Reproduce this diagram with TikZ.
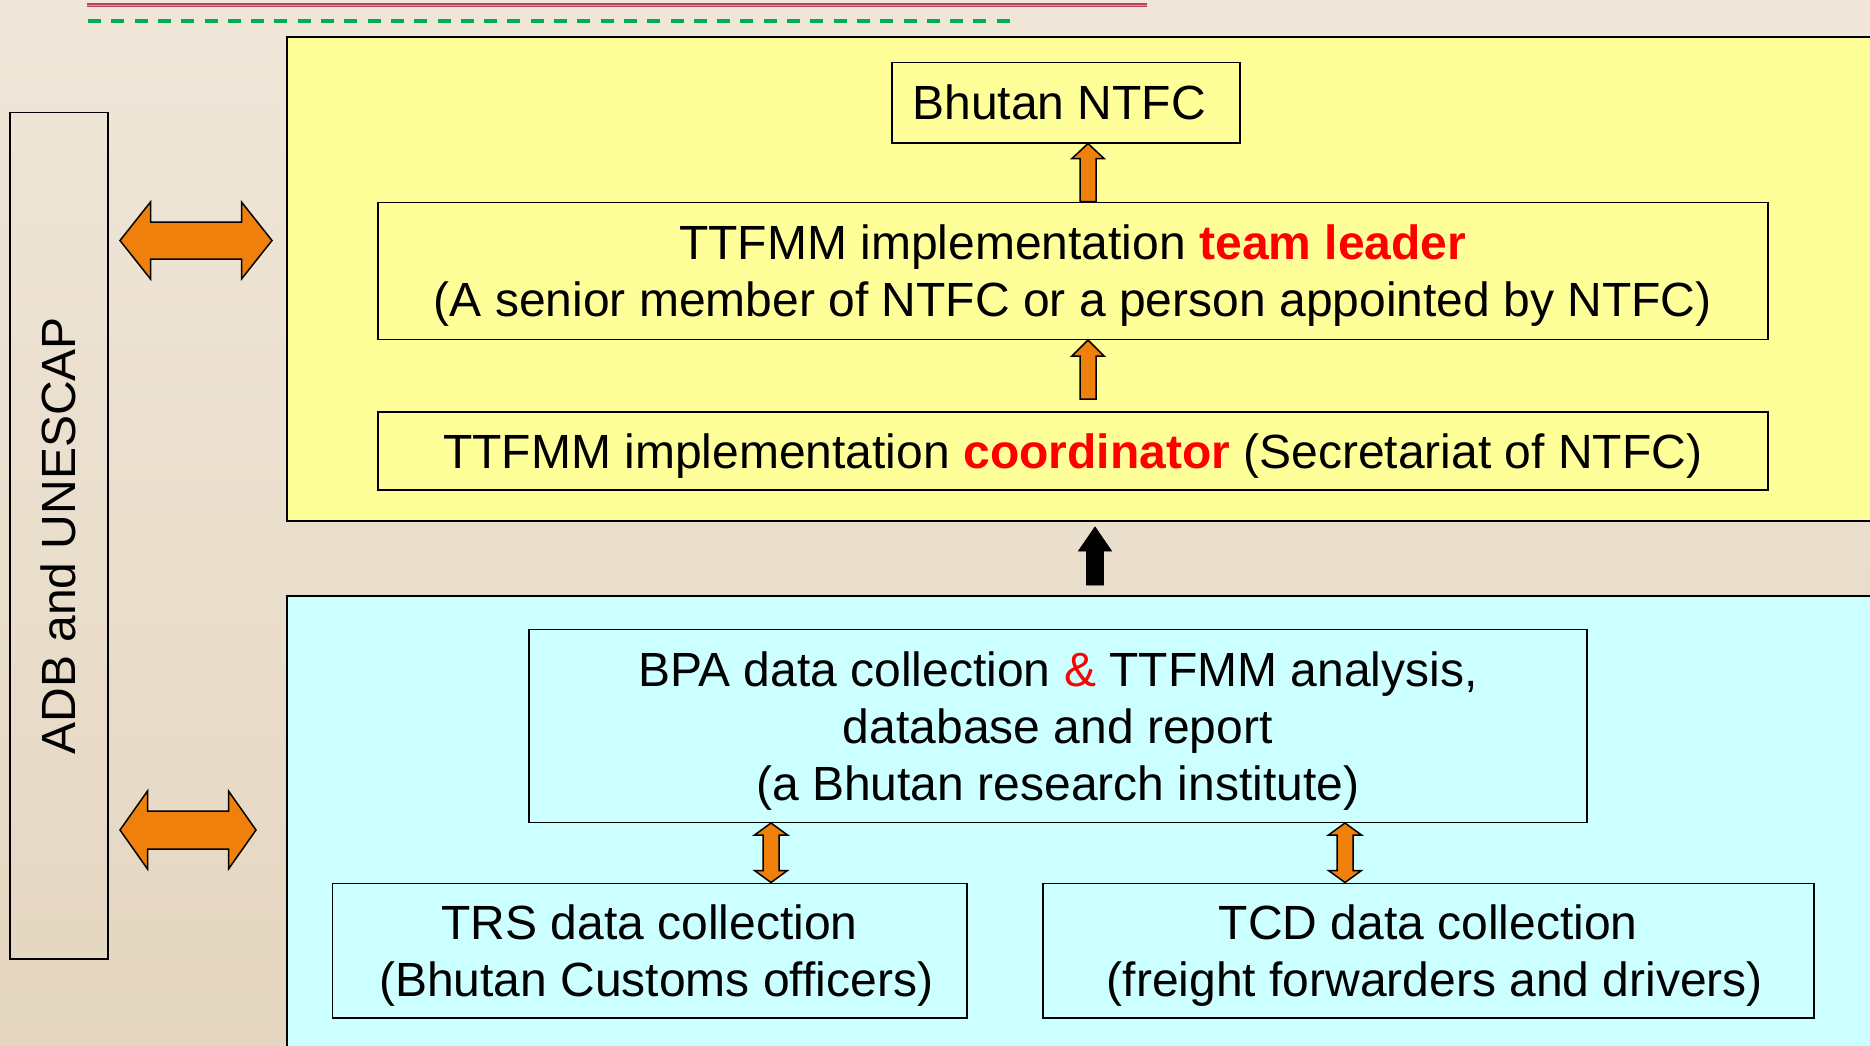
\documentclass[tikz,border=0pt]{standalone}
\usepackage{fontspec}
\setmainfont{Liberation Sans}
\usetikzlibrary{calc}
\definecolor{bgtop}{RGB}{240,231,218}
\definecolor{bgbot}{RGB}{228,214,192}
\definecolor{panelyellow}{RGB}{255,255,153}
\definecolor{panelcyan}{RGB}{204,255,255}
\definecolor{arroworange}{RGB}{240,128,12}
\definecolor{linered}{RGB}{185,70,88}
\definecolor{lineredlight}{RGB}{222,145,155}
\definecolor{linegreen}{RGB}{0,176,80}
\definecolor{hilite}{RGB}{255,0,0}
\newcommand{\st}{\rule{0pt}{45pt}}
\newcommand{\lsp}{\hspace*{13.3pt}}
\newcommand{\SingleBlk}[6]{%
  \coordinate (hbA) at ($(#2)!#6!(#3)$);
  \draw[#1] (#2) -- ($(hbA)!#5!90:(#2)$) -- ($(hbA)!#4!90:(#2)$) -- ($(#3)!#4!90:(#2)$)
    -- ($(#3)!#4!-90:(#2)$) -- ($(hbA)!#4!-90:(#2)$) -- ($(hbA)!#5!-90:(#2)$) -- cycle;
}
\newcommand{\DoubleBlk}[6]{%
  \coordinate (hbA) at ($(#2)!#6!(#3)$);
  \coordinate (hbB) at ($(#3)!#6!(#2)$);
  \draw[#1] (#2) -- ($(hbA)!#5!90:(#2)$) -- ($(hbA)!#4!90:(#2)$) -- ($(hbB)!#4!90:(#2)$)
    -- ($(hbB)!#5!90:(#2)$) -- (#3) -- ($(hbB)!#5!-90:(#2)$) -- ($(hbB)!#4!-90:(#2)$)
    -- ($(hbA)!#4!-90:(#2)$) -- ($(hbA)!#5!-90:(#2)$) -- cycle;
}
\tikzset{
  box/.style={draw=black, line width=1.5pt, inner sep=0pt, anchor=north west, align=center,
    font=\fontsize{48}{57}\selectfont},
  panel/.style={draw=black, line width=2pt, inner sep=0pt, anchor=north west},
  blkorange/.style={fill=arroworange, draw=black, line width=1.5pt, line join=miter},
  blkblack/.style={fill=black, draw=black, line width=0.8pt, line join=miter},
}
\begin{document}
\begin{tikzpicture}[x=1pt,y=-1pt]
\useasboundingbox (0,0) rectangle (1870,1046);
\clip (0,0) rectangle (1870,1046);
\shade[top color=bgtop, bottom color=bgbot] (0,0) rectangle (1870,1046);

% decorative top lines
\draw[linered, line width=4pt] (87,5.5) -- (1147,5.5);
\draw[lineredlight, line width=1pt] (87,5.5) -- (1147,5.5);
\draw[linegreen, line width=3.4pt, dash pattern=on 13pt off 10.3pt] (88,21) -- (1010,21);

% panels
\node[panel, fill=panelyellow, minimum width=1620pt, minimum height=484pt] (ypanel) at (286,36) {};
\node[panel, fill=panelcyan, minimum width=1620pt, minimum height=500pt] (cpanel) at (286,595) {};

% left box
\node[box, minimum width=98pt, minimum height=846pt] (adb) at (9,112) {};
\node[rotate=90, inner sep=0pt, font=\fontsize{48}{57}\selectfont] (adbtext) at (adb.center) {ADB and UNESCAP};

% yellow panel boxes
\node[box, minimum width=348pt, minimum height=80pt] (ntfc) at (891,62) {Bhutan NTFC\lsp};
\node[box, minimum width=1390pt, minimum height=137pt] (tl) at (377,201.5)
  {\st TTFMM implementation \textcolor{hilite}{\textbf{team leader}}\\(A senior member of NTFC or a person appointed by NTFC)};
\node[box, minimum width=1390pt, minimum height=78pt] (coord) at (377,411)
  {\st TTFMM implementation \textcolor{hilite}{\textbf{coordinator}} (Secretariat of NTFC)};

% cyan panel boxes
\node[box, minimum width=1058pt, minimum height=193pt] (bpa) at (528,628.5)
  {\st BPA data collection \textcolor{hilite}{\&} TTFMM analysis,\\database and report\\(a Bhutan research institute)};
\node[box, minimum width=634.5pt, minimum height=134.5pt] (trs) at (331.5,882.5)
  {\st TRS data collection\\\lsp(Bhutan Customs officers)};
\node[box, minimum width=771pt, minimum height=134.5pt] (tcd) at (1042,882.5)
  {\st TCD data collection\\\lsp(freight forwarders and drivers)};

% reference coordinates
\coordinate (xa) at (1088,0);
\coordinate (xd1) at (771,0);
\coordinate (xd2) at (1345,0);
\coordinate (a1tip) at (ntfc.south -| xa);
\coordinate (a1tail) at (tl.north -| xa);
\coordinate (a2tip) at (tl.south -| xa);
\coordinate (a2tail) at (1088,399);
\coordinate (btip) at (1095,527);
\coordinate (btail) at (1095,585);
\coordinate (d1a) at (bpa.south -| xd1);
\coordinate (d1b) at (trs.north -| xd1);
\coordinate (d2a) at (bpa.south -| xd2);
\coordinate (d2b) at (tcd.north -| xd2);
\coordinate (h1a) at (120,240.5);
\coordinate (h1b) at (272,240.5);
\coordinate (h2a) at (120,830);
\coordinate (h2b) at (256,830);

% arrows
\SingleBlk{blkorange}{a1tip}{a1tail}{8pt}{16pt}{15pt}
\SingleBlk{blkorange}{a2tip}{a2tail}{8pt}{16pt}{16pt}
\SingleBlk{blkblack}{btip}{btail}{8.5pt}{16.5pt}{24pt}
\DoubleBlk{blkorange}{d1a}{d1b}{8pt}{16.5pt}{12pt}
\DoubleBlk{blkorange}{d2a}{d2b}{8pt}{16.5pt}{12pt}
\DoubleBlk{blkorange}{h1a}{h1b}{18.5pt}{38.5pt}{30.5pt}
\DoubleBlk{blkorange}{h2a}{h2b}{19pt}{39pt}{27.5pt}
\end{tikzpicture}
\end{document}
